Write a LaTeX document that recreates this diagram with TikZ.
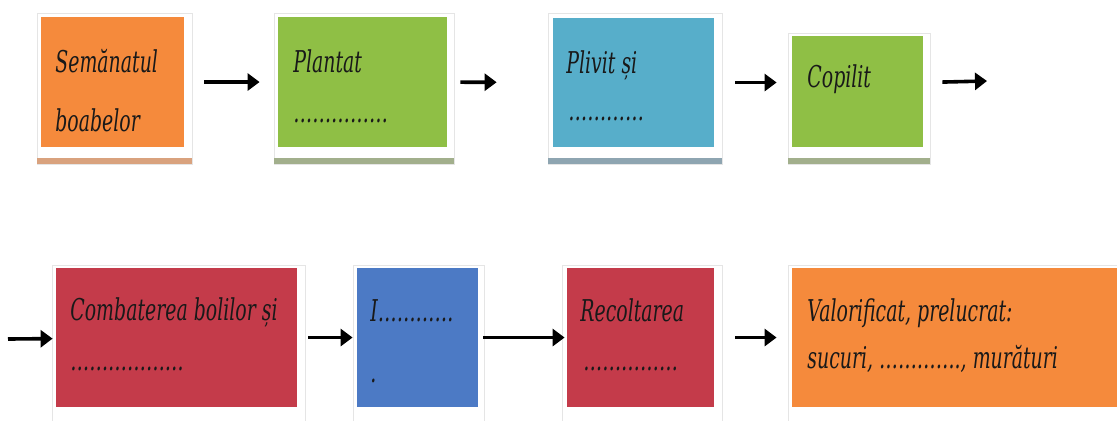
\documentclass[tikz,border=0pt]{standalone}
\usepackage{fontspec}
\newfontfamily\boxfont{DejaVu Serif}[FakeStretch=0.63]
\usetikzlibrary{arrows.meta}
\definecolor{orng}{HTML}{F58A3C}
\definecolor{grn}{HTML}{8FBF45}
\definecolor{cyn}{HTML}{57AECA}
\definecolor{rd}{HTML}{C43B4A}
\definecolor{blu}{HTML}{4C7AC5}
\definecolor{orngshade}{HTML}{D9A27E}
\definecolor{grnshade}{HTML}{A2AF8C}
\definecolor{cynshade}{HTML}{8EA5B1}
\begin{document}
\begin{tikzpicture}[x=0.5pt,y=-0.5pt,
  frm/.style={fill=white, draw=black!10, line width=0.5pt},
  box/.style={inner sep=0pt, minimum height=65pt},
  txt/.style={inner sep=0pt, anchor=base west, text=black!90, font=\boxfont\itshape\fontsize{15}{18}\selectfont},
  arr/.style={line width=1.8pt, -{Triangle[length=6pt,width=8.5pt]}}]
\clip (0,0) rectangle (1117,420);
\fill [white] (0,0) rectangle (1117,420);
% frames, top row
\draw [frm] (37,13) rectangle (192,164);
\fill [orngshade] (37,158) rectangle (192,164);
\draw [frm] (274,13) rectangle (454,164);
\fill [grnshade] (274,158) rectangle (454,164);
\draw [frm] (548,13) rectangle (722,164);
\fill [cynshade] (548,158) rectangle (722,164);
\draw [frm] (788,33) rectangle (930,164);
\fill [grnshade] (788,158) rectangle (930,164);
% frames, bottom row
\draw [frm] (52,265) rectangle (305,430);
\draw [frm] (353,265) rectangle (484,430);
\draw [frm] (562,265) rectangle (722,430);
\draw [frm] (788,265) rectangle (1130,430);
% boxes
\node [box, fill=orng, minimum width=71.5pt] (b1) at (112.5,82) {};
\node [box, fill=grn, minimum width=84.5pt] (b2) at (362.5,82) {};
\node [box, fill=cyn, minimum width=80.5pt, minimum height=64.5pt] (b3) at (633.5,82.5) {};
\node [box, fill=grn, minimum width=65.5pt, minimum height=55.5pt] (b4) at (857.5,91.5) {};
\node [box, fill=rd, minimum width=120.5pt, minimum height=69.5pt] (b5) at (176.5,337.5) {};
\node [box, fill=blu, minimum width=60.5pt, minimum height=69.5pt] (b6) at (417.5,337.5) {};
\node [box, fill=rd, minimum width=73.5pt, minimum height=69.5pt] (b7) at (640.5,337.5) {};
\node [box, fill=orng, minimum width=169pt, minimum height=69.5pt] (b8) at (961,337.5) {};
% texts
\node [txt] (t1a) at (55,72) {Semănatul};
\node [txt] (t1b) at (55,131) {boabelor};
\node [txt] (t2a) at (293,72) {Plantat};
\node [txt] (t2b) at (293,122) {……………};
\node [txt] (t3a) at (566,73) {Plivit și};
\node [txt] (t3b) at (568,120) {…………};
\node [txt] (t4a) at (807,87) {Copilit};
\node [txt] (t5a) at (70,320) {Combaterea bolilor și};
\node [txt] (t5b) at (70,370) {………………};
\node [txt] (t6a) at (370,321) {I…………};
\node [txt] (t6b) at (370,382) {.};
\node [txt] (t7a) at (580,321) {Recoltarea};
\node [txt] (t7b) at (583,370) {……………};
\node [txt] (t8a) at (807,321) {Valorificat, prelucrat:};
\node [txt] (t8b) at (807,368) {sucuri, …………., murături};
% arrows
\coordinate (e4) at (987,81);
\coordinate (s5) at (8,339);
\draw [arr, shorten <=10pt, shorten >=9pt] (b1) -- (b2);
\draw [arr, shorten <=6.5pt, shorten >=28pt] (b2) -- (b3);
\draw [arr, shorten <=10.5pt, shorten >=7.5pt] (b3.east) -- (b4.west |- b3.east);
\draw [arr, shorten <=9.5pt] (b4.east |- b3.east) -- (e4);
\draw [arr, shorten >=1.5pt] (s5) -- (b5);
\draw [arr, shorten <=5.5pt, shorten >=2pt] (b5) -- (b6);
\draw [arr, shorten <=2.5pt, shorten >=1pt] (b6) -- (b7);
\draw [arr, shorten <=10.5pt, shorten >=7.5pt] (b7) -- (b8);
\end{tikzpicture}
\end{document}
